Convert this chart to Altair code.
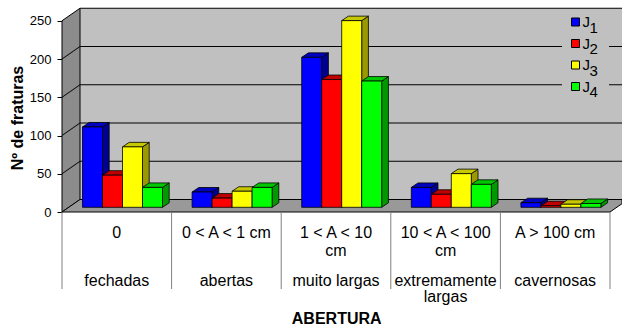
import altair as alt
import pandas as pd

# ---- data -------------------------------------------------------------
range_labels = ["0", "0 < A < 1 cm", "1 < A < 10\ncm", "10 < A < 100\ncm", "A > 100 cm"]
class_labels = ["fechadas", "abertas", "muito largas", "extremamente\nlargas", "cavernosas"]
series = ["J1", "J2", "J3", "J4"]
J1 = [105, 20, 196, 26, 6]
J2 = [42, 12, 167, 17, 2]
J3 = [79, 21, 244, 44, 4]
J4 = [26, 26, 165, 30, 5]
y_ticks = [0, 50, 100, 150, 200, 250]
values = {"J1": J1, "J2": J2, "J3": J3, "J4": J4}

# ---- styling ----------------------------------------------------------
FONT = "Liberation Sans"
W, H = 560, 212                 # plot area in px
PX_CAT = 109.6                  # px per category slot
PX_VAL = 0.765                  # px per unit of value
XMAX = W / PX_CAT
YMAX = H / PX_VAL

# depth of the 3D box (walls / floor)
WALL_DX = 18 / PX_CAT
WALL_DY = 12.5 / PX_VAL
# half the thickness of a gridline, in value units
HALF = 0.55 / PX_VAL
# bar placement inside each category slot and bar depth
BAR_X0 = 20.5 / PX_CAT
BAR_W = 20 / PX_CAT
BAR_BASE = 4.7 / PX_VAL
BAR_DX = 6.7 / PX_CAT
BAR_DY = 4.5 / PX_VAL

front_col = {"J1": "#0000ff", "J2": "#ff0000", "J3": "#ffff00", "J4": "#00ff00"}
top_col = {"J1": "#0000c0", "J2": "#c00000", "J3": "#c8c800", "J4": "#00c800"}
side_col = {"J1": "#000090", "J2": "#900000", "J3": "#9a9a00", "J4": "#009a00"}

# ---- geometry tables built from the series --------------------------
fronts, sides, tops = [], [], []
for j, s in enumerate(series):
    for i, v in enumerate(values[s]):
        x0 = i + BAR_X0 + j * BAR_W
        x1 = x0 + BAR_W
        y0, y1 = BAR_BASE, BAR_BASE + v
        bid = f"{s}-{i}"
        fronts.append(dict(bar=bid, x0=x0, x1=x1, y0=y0, y1=y1, c=front_col[s]))
        for k in (0, 1):
            sides.append(dict(bar=bid, x=x1 + k * BAR_DX, y=y0 + k * BAR_DY,
                              y2=y1 + k * BAR_DY, c=side_col[s]))
            tops.append(dict(bar=bid, y=y1 + k * BAR_DY, x=x0 + k * BAR_DX,
                             x2=x1 + k * BAR_DX, c=top_col[s]))
fronts, sides, tops = pd.DataFrame(fronts), pd.DataFrame(sides), pd.DataFrame(tops)

n_cat = len(range_labels)
top_v = y_ticks[-1]

# gridlines drawn as thin filled bands: straight across the back wall ...
grid_back = pd.DataFrame({
    "tick": y_ticks[1:],
    "xa": [WALL_DX] * (len(y_ticks) - 1),
    "xb": [XMAX] * (len(y_ticks) - 1),
    "lo": [t + WALL_DY - HALF for t in y_ticks[1:]],
    "hi": [t + WALL_DY + HALF for t in y_ticks[1:]],
})
# ... and slanting over the side wall
side_rows = []
for t in y_ticks[1:-1]:
    for k in (0, 1):
        side_rows.append(dict(tick=t, x=k * WALL_DX, lo=t + k * WALL_DY - HALF,
                              hi=t + k * WALL_DY + HALF))
grid_side = pd.DataFrame(side_rows)

# floor outline, cut where its receding right edge leaves the plot
cut = WALL_DY * (XMAX - n_cat) / WALL_DX
floor_pts = pd.DataFrame({
    "y": [0.0, cut, WALL_DY],
    "x": [0.0, WALL_DX * cut / WALL_DY, WALL_DX],
    "x2": [float(n_cat), XMAX, XMAX],
})

xs = alt.Scale(domain=[0, XMAX], nice=False, zero=False)
ys = alt.Scale(domain=[0, YMAX], nice=False, zero=False)
y_axis = alt.Axis(values=y_ticks, title=None, domain=False, grid=False,
                  tickColor="black", tickSize=5, labelPadding=6,
                  labelFont=FONT, labelFontSize=13, labelColor="black")


def X(f):
    return alt.X(f, type="quantitative", scale=xs, axis=None)


def Y(f):
    return alt.Y(f, type="quantitative", scale=ys, axis=y_axis)


# ---- the 3D box ------------------------------------------------------
back_wall = alt.Chart(pd.DataFrame({"x": [WALL_DX], "x2": [XMAX], "y": [WALL_DY],
                                    "y2": [top_v + WALL_DY]})).mark_rect(
    fill="#c0c0c0").encode(x=X("x"), x2="x2", y=Y("y"), y2="y2")

left_wall = alt.Chart(pd.DataFrame({"x": [0, WALL_DX], "y": [0, WALL_DY],
                                    "y2": [top_v, top_v + WALL_DY]})).mark_area(
    orient="vertical", fill="#8c8c8c", stroke="black", strokeWidth=1
).encode(x=X("x"), y=Y("y"), y2="y2")

floor = alt.Chart(floor_pts).mark_area(
    orient="horizontal", fill="#999999", stroke="black", strokeWidth=1
).encode(y=Y("y"), x=X("x"), x2="x2")

grid_back_m = alt.Chart(grid_back).mark_rect(fill="black").encode(
    x=X("xa"), x2="xb", y=Y("lo"), y2="hi")

grid_side_m = alt.Chart(grid_side).mark_area(orient="vertical", fill="black").encode(
    x=X("x"), y=Y("lo"), y2="hi", detail="tick:N")

# ---- bars --------------------------------------------------------------
bar_sides = alt.Chart(sides).mark_area(
    orient="vertical", stroke="black", strokeWidth=0.8
).encode(x=X("x"), y=Y("y"), y2="y2", detail="bar:N",
         fill=alt.Fill("c:N", scale=None))

bar_tops = alt.Chart(tops).mark_area(
    orient="horizontal", stroke="black", strokeWidth=0.8
).encode(y=Y("y"), x=X("x"), x2="x2", detail="bar:N",
         fill=alt.Fill("c:N", scale=None))

bar_fronts = alt.Chart(fronts).mark_rect(stroke="black", strokeWidth=0.8).encode(
    x=X("x0"), x2="x1", y=Y("y0"), y2="y1", fill=alt.Fill("c:N", scale=None))

# ---- category axis below the floor -------------------------------------
dividers = alt.Chart(pd.DataFrame({"b": list(range(n_cat + 1))})).mark_rule(
    color="#808080", strokeWidth=1
).encode(x=X("b"), y=alt.value(212), y2=alt.value(289))

cat_df = pd.DataFrame({"xc": [i + 0.5 for i in range(n_cat)],
                       "r": range_labels, "n": class_labels})
range_text = alt.Chart(cat_df).mark_text(
    font=FONT, fontSize=16, baseline="top", align="center", lineBreak="\n",
    lineHeight=18, color="black"
).encode(x=X("xc"), y=alt.value(224.5), text="r:N")

class_text = alt.Chart(cat_df).mark_text(
    font=FONT, fontSize=16, baseline="middle", align="center", lineBreak="\n",
    lineHeight=15.5, color="black"
).encode(x=X("xc"), y=alt.value(281), text="n:N")

x_title = alt.Chart(pd.DataFrame({"t": ["ABERTURA"]})).mark_text(
    font=FONT, fontSize=16, fontWeight="bold", align="center",
    baseline="alphabetic", color="black"
).encode(x=alt.value(274.7), y=alt.value(324), text="t:N")

y_title = alt.Chart(pd.DataFrame({"t": ["Nº de fraturas"]})).mark_text(
    font=FONT, fontSize=16, fontWeight="bold", align="center",
    baseline="middle", angle=270, color="black"
).encode(x=alt.value(-44.5), y=alt.value(118), text="t:N")

# ---- legend (J with subscript index), one row per series --------------
legend_layers = [
    alt.Chart(pd.DataFrame({"k": [0]})).mark_rect(fill="#c0c0c0").encode(
        x=alt.value(500), x2=alt.value(547), y=alt.value(9), y2=alt.value(99))
]
for j, s in enumerate(series):
    row = pd.DataFrame({"serie": [s], "c": [front_col[s]],
                        "letter": [s[0]], "digit": [s[1:]]})
    ry = 22 + 21.5 * j
    legend_layers.append(alt.Chart(row).mark_square(
        size=64, stroke="black", strokeWidth=1, opacity=1
    ).encode(x=alt.value(513.5), y=alt.value(ry), fill=alt.Fill("c:N", scale=None)))
    legend_layers.append(alt.Chart(row).mark_text(
        font=FONT, fontSize=15, align="left", baseline="middle", color="black"
    ).encode(x=alt.value(520.5), y=alt.value(ry), text="letter:N"))
    legend_layers.append(alt.Chart(row).mark_text(
        font=FONT, fontSize=15, align="left", baseline="middle", color="black"
    ).encode(x=alt.value(527.5), y=alt.value(ry + 5.5), text="digit:N"))

chart = alt.layer(back_wall, left_wall, floor, grid_back_m, grid_side_m,
                  bar_sides, bar_tops, bar_fronts,
                  dividers, range_text, class_text, x_title, y_title,
                  *legend_layers).properties(
    width=W, height=H,
    padding={"left": 62, "top": 0, "right": 0, "bottom": 117},
    autosize="none",
    background="white",
).configure_view(stroke=None)

chart.save("out.html", embed_options={"renderer": "svg", "actions": False})
